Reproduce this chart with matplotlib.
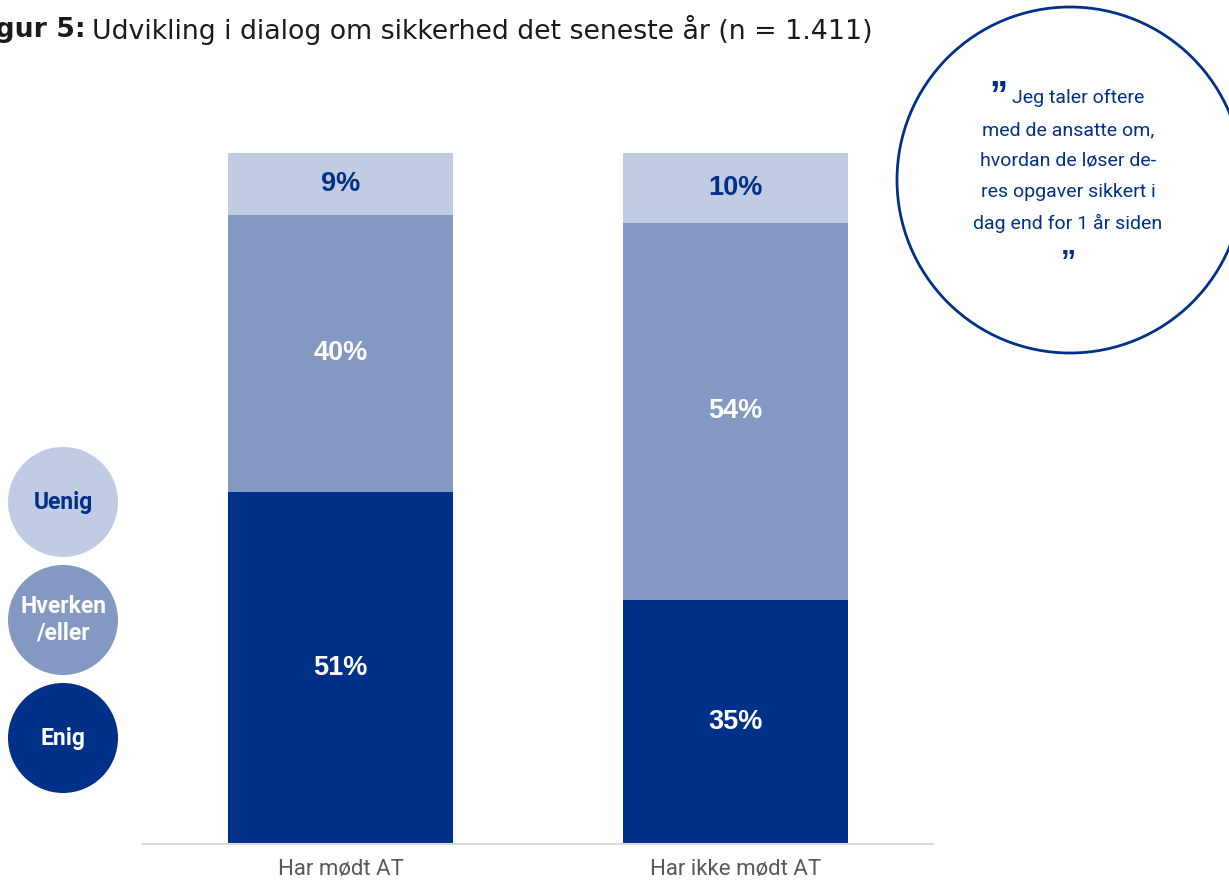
import matplotlib.pyplot as plt
from matplotlib.patches import Circle

# data
categories = ['Har mødt AT', 'Har ikke mødt AT']
series = ['Enig', 'Hverken/eller', 'Uenig']
enig = [51, 35]
hverken = [40, 54]
uenig = [9, 10]
legend_labels = ['Uenig', 'Hverken\n/eller', 'Enig']

navy = '#003087'
mid = '#8399C4'
light = '#C1CBE3'
colors = [navy, mid, light]
label_colors = ['white', 'white', navy]

fig = plt.figure(figsize=(12.29, 8.83), dpi=100)

# overlay in pixel coordinates for title, legend circles and quote bubble
ov = fig.add_axes([0, 0, 1, 1])
ov.set_xlim(0, 1229)
ov.set_ylim(883, 0)
ov.axis('off')

ax = fig.add_axes([143 / 1229, 39 / 883, 790 / 1229, 691 / 883])
ax.patch.set_alpha(0)

values = [enig, hverken, uenig]
totals = [sum(v[i] for v in values) for i in range(len(categories))]
x = list(range(len(categories)))
bottoms = [0.0] * len(categories)
for vals, col, lcol in zip(values, colors, label_colors):
    heights = [v / t * 100 for v, t in zip(vals, totals)]
    ax.bar(x, heights, bottom=bottoms, width=0.57, color=col, edgecolor='none')
    for i, (h, b, v) in enumerate(zip(heights, bottoms, vals)):
        ax.text(i, b + h / 2, f'{v}%', ha='center', va='center', color=lcol,
                fontsize=19.5, fontweight='bold', family='Liberation Sans')
    bottoms = [b + h for b, h in zip(bottoms, heights)]

ax.set_xlim(-0.5, 1.5)
ax.set_ylim(0, 100)
ax.set_xticks(x)
ax.set_xticklabels(categories, fontsize=16, color='#595959', family='Roboto')
ax.tick_params(axis='x', length=0, pad=11)
ax.set_yticks([])
for s in ['top', 'right', 'left']:
    ax.spines[s].set_visible(False)
ax.spines['bottom'].set_color('#D9D9D9')
ax.spines['bottom'].set_linewidth(1.5)

fig.text(86 / 1229, 1 - 30 / 883, 'Figur 5:', ha='right', va='center',
         fontsize=19.3, fontweight='bold', color='#1a1a1a')
fig.text(92 / 1229, 1 - 30 / 883,
         'Udvikling i dialog om sikkerhed det seneste år (n = 1.411)',
         ha='left', va='center', fontsize=19.3, color='#1a1a1a')

leg_y = [502, 620, 738]
leg_fill = [light, mid, navy]
leg_text = [navy, 'white', 'white']
for yy, lab, fc, tc in zip(leg_y, legend_labels, leg_fill, leg_text):
    ov.add_patch(Circle((63, yy), 55, facecolor=fc, edgecolor='none'))
    ov.text(63, yy, lab, ha='center', va='center', color=tc, fontsize=16.5,
            fontweight='bold', family='Roboto', linespacing=1.2)

ov.add_patch(Circle((1070, 180), 173, facecolor='white', edgecolor=navy,
                    linewidth=2))
quote_lines = ['Jeg taler oftere', 'med de ansatte om,', 'hvordan de løser de-',
               'res opgaver sikkert i', 'dag end for 1 år siden']
quote_y = [98, 130, 161, 192, 223]
for i, (line, yy) in enumerate(zip(quote_lines, quote_y)):
    xx = 1078 if i == 0 else 1068
    ov.text(xx, yy, line, ha='center', va='center', color=navy, fontsize=14,
            family='Roboto')
ov.text(998, 98, '\u201d', ha='center', va='center', color=navy, fontsize=26,
        fontweight='bold', family='Liberation Sans')
ov.text(1068, 264, '\u201d', ha='center', va='center', color=navy, fontsize=22,
        fontweight='bold', family='Liberation Sans')

fig.savefig('out.png', dpi=100)
